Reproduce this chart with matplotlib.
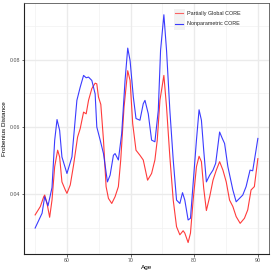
import matplotlib
matplotlib.use("Agg")
import matplotlib.pyplot as plt
from matplotlib.patches import Rectangle
from matplotlib.lines import Line2D

plt.rcParams['font.family'] = ['Liberation Sans', 'DejaVu Sans']

series_names = ["Partially Global CORE", "Nonparametric CORE"]

blue_age = [55.0, 56.09, 56.50, 57.02, 57.65, 58.07, 58.44, 58.85, 59.21, 60.0, 60.78, 61.56,
            62.08, 62.61, 63.02, 63.39, 63.91, 64.43, 64.69, 65.22, 65.74, 66.36, 66.78, 67.30,
            67.56, 68.08, 68.60, 69.13, 69.55, 69.92, 70.43, 70.85, 71.47, 71.99, 72.26, 72.78,
            73.30, 73.82, 74.35, 74.71, 75.23, 75.65, 76.17, 76.70, 77.22, 77.74, 78.16, 78.52,
            79.04, 79.41, 79.83, 80.35, 80.76, 81.13, 81.49, 81.91, 82.43, 82.95, 83.37, 83.99,
            84.41, 84.77, 85.29, 86.07, 86.59, 87.11, 87.63, 88.15, 88.77, 89.19, 89.71, 90.0]
blue_val = [0.0300, 0.0344, 0.0393, 0.0366, 0.0420, 0.0560, 0.0622, 0.0590, 0.0511, 0.0462, 0.0511, 0.0679,
            0.0718, 0.0753, 0.0746, 0.0748, 0.0738, 0.0698, 0.0600, 0.0561, 0.0521, 0.0437, 0.0457, 0.0516,
            0.0521, 0.0502, 0.0580, 0.0738, 0.0834, 0.0797, 0.0689, 0.0625, 0.0620, 0.0669, 0.0679, 0.0639,
            0.0561, 0.0556, 0.0649, 0.0827, 0.0933, 0.0827, 0.0649, 0.0502, 0.0383, 0.0373, 0.0405, 0.0383,
            0.0324, 0.0329, 0.0433, 0.0561, 0.0651, 0.0620, 0.0531, 0.0437, 0.0457, 0.0472, 0.0492, 0.0585,
            0.0566, 0.0551, 0.0482, 0.0413, 0.0378, 0.0388, 0.0398, 0.0423, 0.0472, 0.0470, 0.0531, 0.0566]

red_age = [55.0, 55.82, 56.35, 56.50, 56.87, 57.28, 57.65, 58.07, 58.54, 58.85, 59.21, 59.74, 60.0,
           60.52, 61.04, 61.67, 62.08, 62.61, 63.02, 63.39, 63.91, 64.43, 64.69, 64.95, 65.32, 65.74,
           66.15, 66.52, 67.04, 67.56, 68.08, 68.45, 68.97, 69.55, 69.92, 70.33, 70.85, 71.47, 71.99,
           72.67, 73.30, 73.82, 74.19, 74.61, 75.23, 75.65, 76.17, 76.70, 77.22, 77.74, 78.26, 78.52,
           79.04, 79.41, 79.83, 80.35, 80.76, 81.13, 81.49, 81.91, 82.43, 82.95, 83.47, 83.99, 84.51,
           85.03, 85.55, 86.07, 86.59, 87.22, 87.89, 88.41, 88.93, 89.45, 90.0]
red_val = [0.0339, 0.0364, 0.0393, 0.0398, 0.0373, 0.0332, 0.0383, 0.0482, 0.0531, 0.0511, 0.0437, 0.0413, 0.0403,
           0.0428, 0.0487, 0.0570, 0.0595, 0.0644, 0.0639, 0.0679, 0.0714, 0.0730, 0.0728, 0.0689, 0.0667, 0.0561,
           0.0423, 0.0388, 0.0373, 0.0393, 0.0423, 0.0502, 0.0659, 0.0767, 0.0738, 0.0610, 0.0531, 0.0516, 0.0502,
           0.0442, 0.0462, 0.0502, 0.0561, 0.0679, 0.0753, 0.0659, 0.0511, 0.0383, 0.0304, 0.0280, 0.0292, 0.0285,
           0.0257, 0.0285, 0.0383, 0.0482, 0.0513, 0.0497, 0.0418, 0.0352, 0.0393, 0.0442, 0.0472, 0.0497, 0.0472,
           0.0437, 0.0383, 0.0364, 0.0334, 0.0314, 0.0329, 0.0354, 0.0413, 0.0423, 0.0506]

x_ticks = [60, 70, 80, 90]
y_ticks = [0.04, 0.06, 0.08]
y_tick_labels = ["0.04", "0.06", "0.08"]

fig = plt.figure(figsize=(2.73, 2.73), dpi=100)
ax = fig.add_axes([24/273, 19/273, 245/273, 250.7/273])

red_col = (1.0, 0.15, 0.15)
blue_col = (0.15, 0.15, 1.0)

for xv in [55, 65, 75, 85]:
    ax.axvline(xv, color='#F2F2F2', lw=0.5, zorder=0)
for yv in [0.03, 0.05, 0.07, 0.09]:
    ax.axhline(yv, color='#F2F2F2', lw=0.5, zorder=0)
for xv in x_ticks:
    ax.axvline(xv, color='#EBEBEB', lw=1.0, zorder=0)
for yv in y_ticks:
    ax.axhline(yv, color='#EBEBEB', lw=1.0, zorder=0)

ax.plot(red_age, red_val, color=red_col, lw=0.8, alpha=0.9, zorder=2)
ax.plot(blue_age, blue_val, color=blue_col, lw=0.8, alpha=0.9, zorder=3)

ax.set_xlim(53.25, 91.75)
ax.set_ylim(0.0223, 0.0967)
ax.set_xticks(x_ticks)
ax.set_yticks(y_ticks)
ax.set_yticklabels(y_tick_labels)
ax.tick_params(labelsize=3.8, labelcolor='#4D4D4D', length=1.8, width=0.5, color='#333333', pad=1.2)

for s in ['top', 'right']:
    ax.spines[s].set_color('#555555')
    ax.spines[s].set_linewidth(0.6)
for s in ['left', 'bottom']:
    ax.spines[s].set_color('#222222')
    ax.spines[s].set_linewidth(0.8)

ax.set_xlabel("Age", fontsize=4.6, labelpad=1.5)
ax.set_ylabel("Frobenius Distance", fontsize=4.6, labelpad=2)

# legend
ax.add_patch(Rectangle((0.612, 0.8935), 0.045, 0.0835, transform=ax.transAxes,
                       facecolor='#F2F2F2', edgecolor='none', zorder=4))
for yy, col, name in [(0.960, red_col, series_names[0]), (0.919, blue_col, series_names[1])]:
    ax.add_line(Line2D([0.618, 0.651], [yy, yy], transform=ax.transAxes, color=col,
                       lw=0.8, alpha=0.7 if col == red_col else 0.9, zorder=5))
    ax.text(0.665, yy, name, transform=ax.transAxes, fontsize=3.9, va='center', ha='left',
            color='#222222', zorder=5)

fig.savefig("out.png", dpi=100)
